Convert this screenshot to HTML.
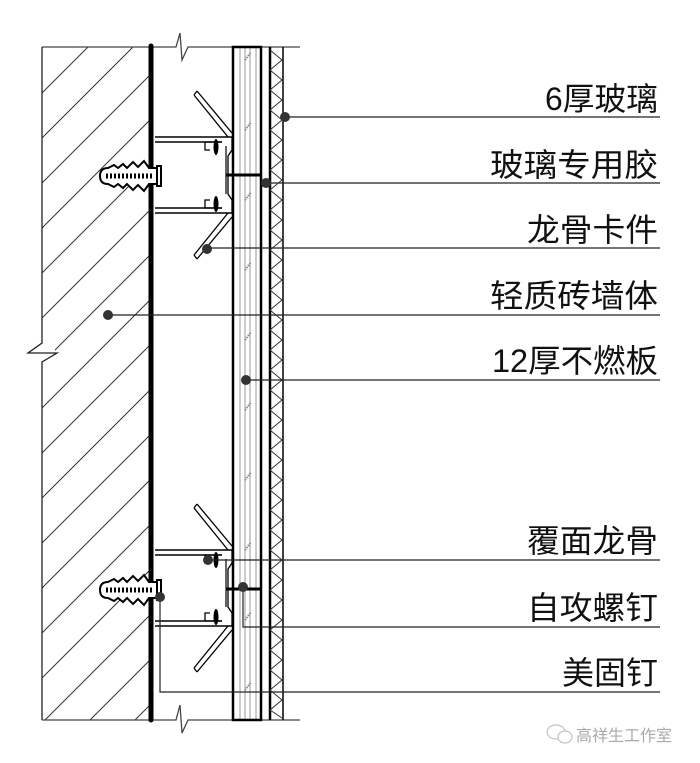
<!DOCTYPE html>
<html><head><meta charset="utf-8"><style>
html,body{margin:0;padding:0;background:#fff;}
svg{display:block;}
text{font-family:"Liberation Sans","Noto Sans CJK SC",sans-serif;font-size:32px;fill:#111;}
</style></head><body>
<svg width="700" height="763" viewBox="0 0 700 763" xmlns="http://www.w3.org/2000/svg">
<defs>
<pattern id="h" patternUnits="userSpaceOnUse" width="45" height="45">
<path d="M-10 55 L55 -10 M-22 22 L22 -22 M23 67 L67 23" stroke="#333" stroke-width="1"/>
</pattern>
<clipPath id="wc"><rect x="42" y="47" width="108" height="673"/></clipPath>
<g id="anchor">
<path d="M100 176 q0 -8 8 -8 l6 -3 l4 3 l5 -4 l4 4 l6 -6 l5 5 l6 -6 l5 7 h8 v-2 h4 v20 h-4 v-2 h-8 l-5 7 l-6 -6 l-5 5 l-6 -6 l-4 4 l-5 -4 l-4 3 l-6 -3 q-8 0 -8 -8z" fill="#fff" stroke="#000" stroke-width="2"/>
<path d="M106 176 h46" stroke="#000" stroke-width="5" stroke-dasharray="2 2"/>
<path d="M157 168 v16" stroke="#000" stroke-width="2"/>
</g>
<g id="bracket">
<path d="M155 137 H232 M155 142 H222 M155 213 H232 M155 208 H222" stroke="#000" stroke-width="1.5" fill="none"/>
<path d="M222 142 H205 V150 H210 M222 208 H205 V200 H210" stroke="#000" stroke-width="1.3" fill="none"/>
<path d="M232 137 V150 L228 156 V194 L232 200 V213" stroke="#000" stroke-width="1.3" fill="none"/>
<path d="M226 146 V194" stroke="#000" stroke-width="1.2"/>
<ellipse cx="216" cy="147" rx="2.5" ry="8" fill="#000"/>
<ellipse cx="216" cy="204" rx="2.5" ry="8" fill="#000"/>
<path d="M197 91 L232 133 M194 95 L228 137 M197 91 L194 95" stroke="#000" stroke-width="1.3"/>
<path d="M232 217 L197 259 M228 213 L194 255 M197 259 L194 255" stroke="#000" stroke-width="1.3"/>
</g>
</defs>
<rect x="42" y="47" width="108" height="673" fill="url(#h)" clip-path="url(#wc)"/>
<rect x="30" y="340" width="25" height="25" fill="#fff"/>
<path d="M42 47 V343 L28 353 H57 L42 362 V720" stroke="#222" stroke-width="1.3" fill="none"/>
<path d="M42 47 H176 L180 33 L182 60 L188 47 H300" stroke="#444" stroke-width="1.3" fill="none"/>
<path d="M42 720 H176 L180 705 L182 733 L188 720 H300" stroke="#444" stroke-width="1.3" fill="none"/>
<line x1="151" y1="46" x2="151" y2="720" stroke="#000" stroke-width="5" stroke-linecap="round"/>
<g stroke="#999" stroke-width="1">
<line x1="240" y1="47" x2="240" y2="720"/><line x1="245" y1="47" x2="245" y2="720"/>
<line x1="250" y1="47" x2="250" y2="720"/><line x1="256" y1="47" x2="256" y2="720"/>
</g>
<path d="M245 60 l6 -8 M245 130 l6 -8 M245 200 l6 -8 M245 270 l6 -8 M245 340 l6 -8 M245 410 l6 -8 M245 480 l6 -8 M245 550 l6 -8 M245 620 l6 -8 M245 690 l6 -8" stroke="#888" stroke-width="2" stroke-dasharray="1.5 1"/>
<rect x="233" y="47" width="28" height="673" fill="none" stroke="#000" stroke-width="2.5"/>
<line x1="270" y1="47" x2="270" y2="720" stroke="#000" stroke-width="2.5"/>
<line x1="283" y1="47" x2="283" y2="720" stroke="#000" stroke-width="1.5"/>
<path d="M270 50 L282 60 L270 70 L282 80 L270 90 L282 100 L270 110 L282 120 L270 130 L282 140 L270 150 L282 160 L270 170 L282 180 L270 190 L282 200 L270 210 L282 220 L270 230 L282 240 L270 250 L282 260 L270 270 L282 280 L270 290 L282 300 L270 310 L282 320 L270 330 L282 340 L270 350 L282 360 L270 370 L282 380 L270 390 L282 400 L270 410 L282 420 L270 430 L282 440 L270 450 L282 460 L270 470 L282 480 L270 490 L282 500 L270 510 L282 520 L270 530 L282 540 L270 550 L282 560 L270 570 L282 580 L270 590 L282 600 L270 610 L282 620 L270 630 L282 640 L270 650 L282 660 L270 670 L282 680 L270 690 L282 700 L270 710 L282 718" stroke="#333" stroke-width="1" fill="none"/>
<use href="#bracket"/>
<use href="#bracket" transform="translate(0,413)"/>
<use href="#anchor"/>
<use href="#anchor" transform="translate(0,414)"/>
<line x1="226" y1="175" x2="262" y2="175" stroke="#000" stroke-width="3"/>
<line x1="226" y1="589" x2="262" y2="589" stroke="#000" stroke-width="3"/>
<g stroke="#222" stroke-width="1.2" fill="none">
<path d="M285 117 H660"/><path d="M266 183 H660"/><path d="M207 248 H660"/>
<path d="M108 315 H660"/><path d="M246 380 H660"/><path d="M208 560 H660"/>
<path d="M243 587 V627 H660"/><path d="M160 597 V692 H660"/>
</g>
<g fill="#333">
<circle cx="285" cy="117" r="5"/><circle cx="266" cy="183" r="5"/><circle cx="207" cy="249" r="5"/>
<circle cx="108" cy="315" r="5"/><circle cx="246" cy="380" r="5"/><circle cx="208" cy="560" r="5"/>
<circle cx="243" cy="587" r="5"/><circle cx="160" cy="597" r="5"/>
</g>
<g text-anchor="end">
<text x="658" y="110" textLength="113" lengthAdjust="spacingAndGlyphs">6厚玻璃</text>
<text x="658" y="176" textLength="168" lengthAdjust="spacingAndGlyphs">玻璃专用胶</text>
<text x="658" y="241" textLength="131" lengthAdjust="spacingAndGlyphs">龙骨卡件</text>
<text x="658" y="307" textLength="168" lengthAdjust="spacingAndGlyphs">轻质砖墙体</text>
<text x="658" y="372" textLength="166" lengthAdjust="spacingAndGlyphs">12厚不燃板</text>
<text x="658" y="552" textLength="131" lengthAdjust="spacingAndGlyphs">覆面龙骨</text>
<text x="658" y="619" textLength="131" lengthAdjust="spacingAndGlyphs">自攻螺钉</text>
<text x="658" y="684" textLength="96" lengthAdjust="spacingAndGlyphs">美固钉</text>
</g>
<g opacity="0.5">
<ellipse cx="556" cy="732" rx="9" ry="7" fill="none" stroke="#888" stroke-width="1.2"/>
<ellipse cx="565" cy="737" rx="7" ry="6" fill="#fff" stroke="#888" stroke-width="1.2"/>
<text x="576" y="741" style="font-family:'Noto Sans CJK SC',sans-serif;font-size:16px;fill:#555">高祥生工作室</text>
</g>
</svg>
</body></html>
